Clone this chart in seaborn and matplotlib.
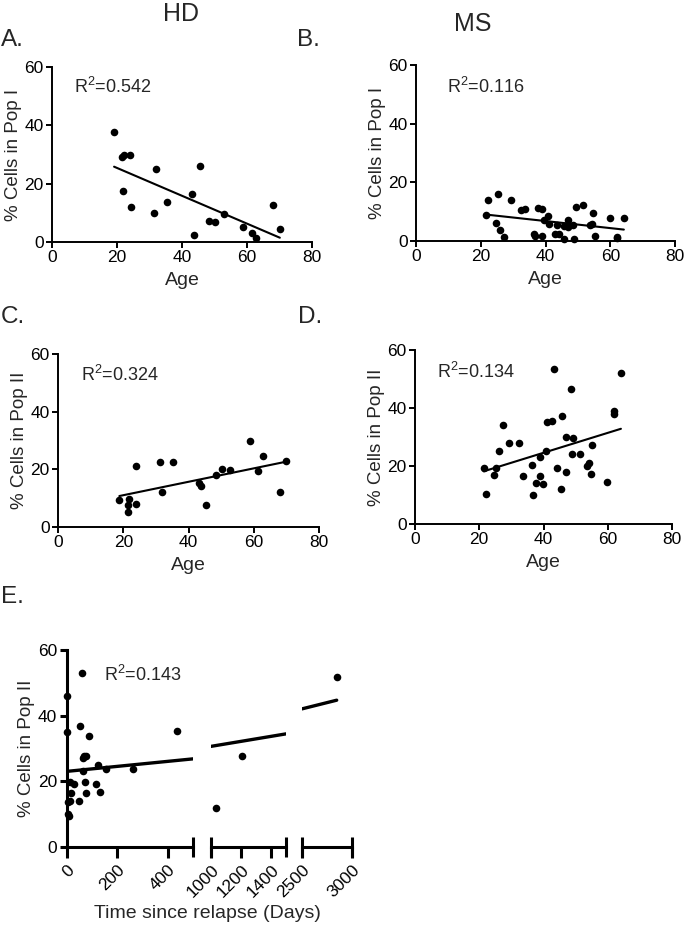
import numpy as np
import matplotlib
matplotlib.use('Agg')
import matplotlib.pyplot as plt
import seaborn as sns

# ---- data ----
age_a = [19.1, 21.6, 22.1, 24.1, 21.9, 24.2, 31.9, 31.3, 35.4, 43.1,
         45.4, 43.8, 48.3, 50.3, 53.0, 58.8, 61.4, 62.8, 68.0, 70.1]
pop1_a = [37.6, 29.0, 29.9, 29.8, 17.5, 11.9, 25.1, 10.0, 13.6, 16.4,
          26.1, 2.3, 7.1, 6.8, 9.5, 5.3, 3.1, 1.3, 12.6, 4.5]

age_b = [21.5, 22.1, 25.2, 24.6, 26.0, 27.3, 29.4, 32.4, 33.7, 36.4,
         38.9, 37.7, 38.9, 39.5, 40.7, 41.1, 42.9, 44.3, 43.6, 45.7,
         45.8, 46.9, 46.9, 48.6, 48.9, 49.3, 51.5, 53.7, 54.3, 54.8,
         55.2, 60.0, 62.0, 62.1, 64.2, 36.8]
pop1_b = [8.8, 14.1, 16.1, 6.1, 3.8, 1.4, 13.9, 10.5, 10.9, 2.3,
          1.8, 11.3, 10.9, 7.3, 8.6, 5.9, 2.3, 2.3, 5.3, 5.0,
          0.8, 7.3, 4.9, 5.3, 0.7, 11.5, 12.3, 5.6, 5.9, 9.5,
          1.8, 7.7, 0.9, 1.5, 7.8, 1.6]

age_c = [18.8, 21.4, 21.9, 21.6, 23.9, 24.0, 31.2, 31.9, 35.2, 43.2,
         43.7, 45.3, 48.3, 50.2, 52.8, 58.8, 61.3, 62.8, 68.0, 70.0]
pop2_c = [9.3, 7.6, 9.6, 5.2, 8.0, 21.3, 22.4, 12.2, 22.6, 15.2,
          14.1, 7.5, 17.9, 20.0, 19.7, 29.7, 19.5, 24.7, 12.3, 22.8]

age_d = [21.4, 22.2, 24.6, 25.2, 26.2, 27.3, 29.4, 32.4, 33.7, 36.4,
         36.7, 37.7, 38.8, 38.9, 39.7, 40.7, 41.1, 42.8, 43.4, 44.3,
         45.5, 45.7, 47.0, 47.1, 48.7, 48.8, 49.3, 51.5, 53.5, 54.2,
         54.7, 55.1, 59.9, 61.9, 62.1, 64.1]
pop2_d = [19.3, 10.5, 17.0, 19.4, 25.3, 34.1, 28.0, 28.0, 16.4, 20.5,
          9.9, 14.3, 23.2, 16.7, 13.9, 25.2, 35.2, 35.5, 53.3, 19.4,
          12.2, 37.1, 30.0, 18.0, 46.4, 24.0, 29.8, 24.0, 20.1, 21.1,
          17.2, 27.1, 14.5, 38.9, 38.0, 52.2]

days_e = [0, 0, 4, 13, 5, 8, 13, 17, 29, 46,
          50, 58, 64, 69, 75, 64, 71, 75, 88, 115,
          124, 129, 156, 261, 435, 1034, 1207, 2847]
pop2_e = [46.1, 34.9, 13.6, 14.0, 10.2, 9.5, 19.8, 16.5, 19.2, 14.0,
          36.8, 52.9, 27.1, 27.8, 27.6, 23.1, 19.8, 16.3, 33.9, 19.1,
          24.9, 16.8, 23.9, 23.9, 35.4, 12.0, 27.8, 51.9]

r2_labels = ['R$^2$=0.542', 'R$^2$=0.116', 'R$^2$=0.324', 'R$^2$=0.134', 'R$^2$=0.143']
age_ticks = [0, 20, 40, 60, 80]
pct_ticks = [0, 20, 40, 60]
segments = [(0, 500), (1000, 1500), (2500, 3000)]
seg_ticks = [[0, 200, 400], [1000, 1200, 1400], [2500, 3000]]

# ---- style ----
sns.set_style('ticks')
plt.rcParams['font.family'] = ['Liberation Sans', 'DejaVu Sans']
plt.rcParams['mathtext.fontset'] = 'custom'
plt.rcParams['mathtext.rm'] = 'Liberation Sans'
plt.rcParams['mathtext.default'] = 'regular'
plt.rcParams['axes.linewidth'] = 1.4
plt.rcParams['xtick.major.width'] = 1.4
plt.rcParams['ytick.major.width'] = 1.4
plt.rcParams['xtick.major.size'] = 4
plt.rcParams['ytick.major.size'] = 4
plt.rcParams['xtick.color'] = 'black'
plt.rcParams['ytick.color'] = 'black'
plt.rcParams['axes.edgecolor'] = 'black'

fig = plt.figure(figsize=(6.85, 9.3), dpi=100)
W, H = 685, 930


def px_axes(x0, x1, y0, y1):
    # pixel box (top-left origin) -> figure axes
    return fig.add_axes([x0 / W, 1 - y1 / H, (x1 - x0) / W, (y1 - y0) / H])


scat = {'s': 30, 'color': 'black', 'linewidths': 0, 'clip_on': False, 'alpha': 1}
line = {'color': 'black', 'lw': 1.5}

panels = [
    (age_a, pop1_a, '% Cells in Pop I', (52, 312, 67, 242), r2_labels[0], (6.8, 53)),
    (age_b, pop1_b, '% Cells in Pop I', (416, 675, 65, 241), r2_labels[1], (9.6, 52.5)),
    (age_c, pop2_c, '% Cells in Pop II', (58, 319, 354, 527), r2_labels[2], (7.0, 52.7)),
    (age_d, pop2_d, '% Cells in Pop II', (415, 672, 350, 524), r2_labels[3], (6.8, 52.4)),
]

for xs, ys, ylab, box, r2, pos in panels:
    ax = px_axes(*box)
    sns.regplot(x=xs, y=ys, ax=ax, ci=None, scatter_kws=scat, line_kws=line)
    ax.set_xlim(0, 80)
    ax.set_ylim(0, 60)
    ax.set_xticks(age_ticks)
    ax.set_yticks(pct_ticks)
    ax.tick_params(labelsize=12.5, pad=2)
    ax.set_xlabel('Age', fontsize=14, labelpad=5)
    ax.set_ylabel(ylab, fontsize=13.5, labelpad=2)
    ax.text(pos[0], pos[1], r2, fontsize=13, va='center', ha='left')
    sns.despine(ax=ax)

# ---- panel E: broken x axis ----
fit = np.polyfit(days_e, pop2_e, 1)
seg_px = [(67, 193), (211, 286), (302, 352)]
days_arr = np.array(days_e)
for i, ((lo, hi), (p0, p1)) in enumerate(zip(segments, seg_px)):
    ax = px_axes(p0, p1, 650, 847)
    sns.scatterplot(x=days_e, y=pop2_e, ax=ax, s=30, color='black',
                    linewidth=0, clip_on=False)
    # hide points outside this segment
    for coll in ax.collections:
        offs = coll.get_offsets()
        keep = (offs[:, 0] >= lo) & (offs[:, 0] <= hi)
        coll.set_offsets(offs[keep])
    x0 = max(lo, days_arr.min())
    x1 = min(hi, days_arr.max())
    lx = np.array([x0, x1])
    sns.lineplot(x=lx, y=np.polyval(fit, lx), ax=ax, color='black', lw=2.4)
    ax.set_xlim(lo, hi)
    ax.set_ylim(0, 60)
    ax.set_xticks(seg_ticks[i])
    ax.set_xticklabels([str(t) for t in seg_ticks[i]], rotation=45,
                       ha='right', rotation_mode='anchor')
    caps = [c for c in (lo, hi) if not (i == 0 and c == lo)]
    ax.set_xticks(caps, minor=True)
    ax.xaxis.remove_overlapping_locs = False
    ax.tick_params(axis='x', which='major', direction='out', length=8, width=2.2,
                   labelsize=12.5, pad=3)
    ax.tick_params(axis='x', which='minor', direction='inout', length=14, width=2.2)
    ax.spines['bottom'].set_linewidth(2.2)
    if i == 0:
        ax.set_yticks(pct_ticks)
        ax.tick_params(axis='y', labelsize=12.5, length=5, width=2.2, pad=2)
        ax.spines['left'].set_linewidth(2.2)
        ax.set_ylabel('% Cells in Pop II', fontsize=13.5, labelpad=2)
        ax.text(147, 52.4, r2_labels[4], fontsize=13, va='center', ha='left')
        sns.despine(ax=ax)
    else:
        ax.set_yticks([])
        sns.despine(ax=ax, left=True)
    ax.set_xlabel('')

fig.text(207 / W, 1 - 913 / H, 'Time since relapse (Days)', fontsize=14,
         ha='center', va='center')

# panel letters and group titles
for lab, x, y in [('A.', 1, 40), ('B.', 297, 40), ('C.', 1, 317),
                  ('D.', 298, 317), ('E.', 1, 597)]:
    fig.text(x / W, 1 - y / H, lab, fontsize=17.5, ha='left', va='center')
fig.text(181 / W, 1 - 14 / H, 'HD', fontsize=18, ha='center', va='center')
fig.text(473 / W, 1 - 24 / H, 'MS', fontsize=18, ha='center', va='center')

fig.savefig('out.png', dpi=100)
